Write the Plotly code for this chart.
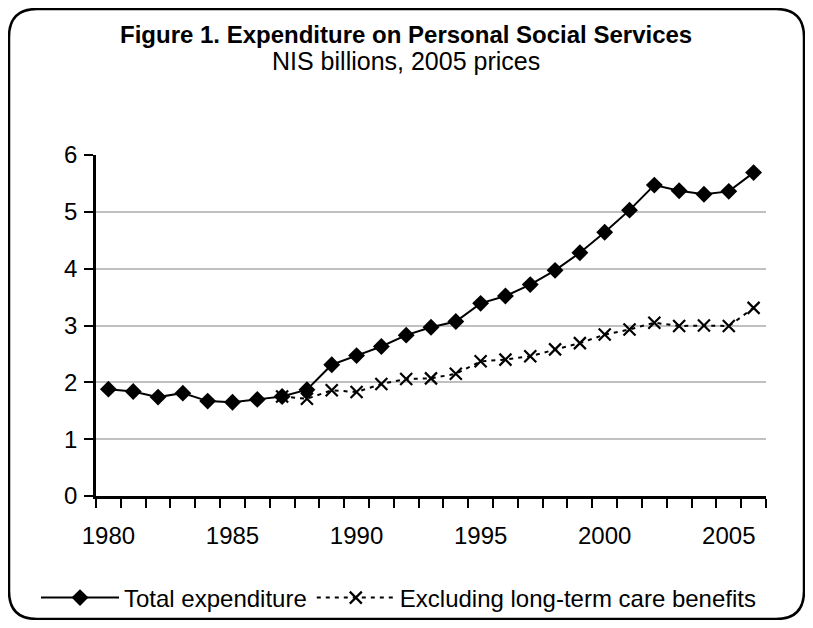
import plotly.graph_objects as go

# ---- data ----
years = list(range(1980, 2007))
total_expenditure = [1.88, 1.84, 1.74, 1.81, 1.67, 1.65, 1.70, 1.75, 1.87, 2.31,
                     2.47, 2.63, 2.83, 2.97, 3.07, 3.39, 3.52, 3.72, 3.97, 4.28,
                     4.64, 5.03, 5.47, 5.37, 5.31, 5.36, 5.69]
excluding_ltc = [None, None, None, None, None, None, None,
                 1.75, 1.71, 1.86, 1.83, 1.97, 2.06, 2.07, 2.15, 2.37, 2.40,
                 2.46, 2.58, 2.69, 2.84, 2.93, 3.05, 2.99, 3.00, 2.99, 3.31]
x_tick_labels = ["1980", "1985", "1990", "1995", "2000", "2005"]
y_tick_values = [0, 1, 2, 3, 4, 5, 6]

FONT = "Liberation Sans, Arial, sans-serif"
OFF = 8                      # page body margin
WIN_W, WIN_H = 813, 628
W, H = WIN_W - 2 * OFF, WIN_H - 2 * OFF
# plot area in window pixels
PL, PR, PT, PB = 96, 766, 155, 496
L, R, T, B = PL - OFF, W - (PR - OFF), PT - OFF, H - (PB - OFF)
pw, ph = PR - PL, PB - PT

def px(x):
    return (x - PL) / pw

def py(y):
    return (PB - y) / ph

fig = go.Figure()
fig.add_trace(go.Scatter(
    x=years, y=excluding_ltc, name="Excluding long-term care benefits",
    mode="lines+markers",
    line=dict(color="black", width=2, dash="4px,5px"),
    marker=dict(symbol="x-thin-open", size=12, line=dict(color="black", width=2.2)),
))
fig.add_trace(go.Scatter(
    x=years, y=total_expenditure, name="Total expenditure",
    mode="lines+markers",
    line=dict(color="black", width=2),
    marker=dict(symbol="diamond", size=13, color="black"),
))

# rounded outer border (window pixel coords)
x0, y0, x1, y1, r = 9, 9, 804, 619, 28
path = (f"M {px(x0+r)} {py(y0)} L {px(x1-r)} {py(y0)} "
        f"Q {px(x1)} {py(y0)} {px(x1)} {py(y0+r)} L {px(x1)} {py(y1-r)} "
        f"Q {px(x1)} {py(y1)} {px(x1-r)} {py(y1)} L {px(x0+r)} {py(y1)} "
        f"Q {px(x0)} {py(y1)} {px(x0)} {py(y1-r)} L {px(x0)} {py(y0+r)} "
        f"Q {px(x0)} {py(y0)} {px(x0+r)} {py(y0)} Z")

fig.update_layout(
    width=W, height=H,
    margin=dict(l=L, r=R, t=T, b=B, autoexpand=False),
    paper_bgcolor="white", plot_bgcolor="white",
    font=dict(family=FONT, size=24, color="black"),
    showlegend=True,
    legend=dict(orientation="h", x=px(36), xanchor="left", y=py(598), yanchor="middle",
                traceorder="reversed", font=dict(size=24), itemwidth=78,
                tracegroupgap=0, bgcolor="rgba(0,0,0,0)", borderwidth=0),
    xaxis=dict(
        range=[1979.5, 2006.5],
        tickmode="array", tickvals=[int(t) for t in x_tick_labels], ticktext=x_tick_labels,
        ticks="outside", ticklen=9, tickcolor="rgba(0,0,0,0)",
        ticklabelstandoff=7, tickangle=0,
        minor=dict(ticks="outside", tick0=1979.5, dtick=1, ticklen=9,
                   tickwidth=2, tickcolor="black", showgrid=False),
        showline=True, linecolor="black", linewidth=2.5,
        showgrid=False, zeroline=False, automargin=False,
    ),
    yaxis=dict(
        range=[0, 6], tickmode="array", tickvals=y_tick_values,
        ticktext=[str(v) for v in y_tick_values],
        ticks="outside", ticklen=9, tickwidth=2, tickcolor="black",
        ticklabelstandoff=2,
        showline=True, linecolor="black", linewidth=2.5,
        showgrid=True, gridcolor="#c0c0c0", gridwidth=2, zeroline=False,
        automargin=False,
    ),
    yaxis2=dict(
        range=[0, 6], overlaying="y", side="right", showline=True,
        linecolor="#c0c0c0", linewidth=2, showticklabels=False, ticks="",
        showgrid=False, zeroline=False, automargin=False,
    ),
    yaxis3=dict(
        range=[0, 6], overlaying="y", side="left", showline=False,
        tickmode="array", tickvals=y_tick_values, ticks="inside", ticklen=9,
        tickwidth=2, tickcolor="black", showticklabels=False,
        showgrid=False, zeroline=False, automargin=False,
    ),
    shapes=[dict(type="path", path=path, xref="paper", yref="paper",
                 line=dict(color="black", width=2.5), layer="above")],
    annotations=[
        dict(text="<b>Figure 1. Expenditure on Personal Social Services</b>",
             x=px(406), xref="paper", xanchor="center", y=py(34), yref="paper",
             yanchor="middle", showarrow=False, font=dict(size=24)),
        dict(text="NIS billions, 2005 prices",
             x=px(406), xref="paper", xanchor="center", y=py(61), yref="paper",
             yanchor="middle", showarrow=False, font=dict(size=25)),
    ],
)

fig.write_html("out.html")
